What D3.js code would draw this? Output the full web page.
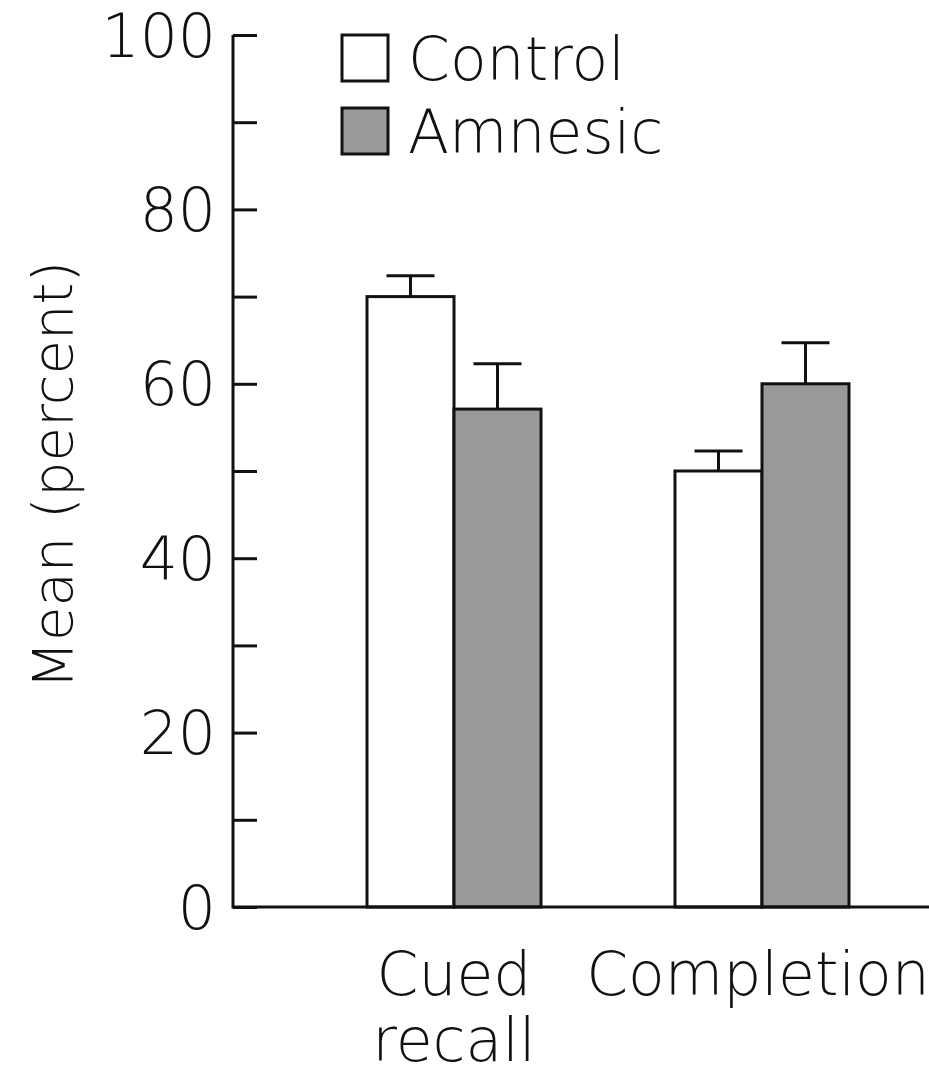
<!DOCTYPE html>
<html>
<head>
<meta charset="utf-8">
<script src="https://cdn.jsdelivr.net/npm/d3@7"></script>
<style>
body{margin:0;background:#fff;}
text{font-family:"DejaVu Sans",sans-serif;font-weight:200;fill:#111;}
</style>
</head>
<body>
<svg width="929" height="1075"></svg>
<script>
var categories = ["Cued recall", "Completion"];
var groups = ["Control", "Amnesic"];
var control = [70, 50];
var controlErr = [72.4, 52.3];
var amnesic = [57.1, 60];
var amnesicErr = [62.3, 64.7];
var yTicks = [0, 20, 40, 60, 80, 100];

var svg = d3.select("svg");
var x0 = 233, yBase = 907, yTop = 35;

var y = d3.scaleLinear().domain([0, 100]).range([yBase, yTop]);
var xg = d3.scaleBand().domain(categories).range([367, 849]).paddingInner(0.435);
var xb = d3.scaleBand().domain(groups).range([0, xg.bandwidth()]);
var fills = {Control: "#fff", Amnesic: "#999"};

var bars = [];
categories.forEach(function(c, i){
    bars.push({cat:c, grp:"Control", v:control[i], e:controlErr[i]});
    bars.push({cat:c, grp:"Amnesic", v:amnesic[i], e:amnesicErr[i]});
});

// error bars (upper half only)
var eb = svg.append("g").attr("stroke", "#111").attr("stroke-width", 3);
bars.forEach(function(d){
    var cx = xg(d.cat) + xb(d.grp) + xb.bandwidth()/2;
    eb.append("line").attr("x1", cx).attr("x2", cx).attr("y1", y(d.v)).attr("y2", y(d.e));
    eb.append("line").attr("x1", cx-24).attr("x2", cx+24).attr("y1", y(d.e)).attr("y2", y(d.e));
});

svg.append("g").selectAll("rect").data(bars).enter().append("rect")
    .attr("x", function(d){return xg(d.cat) + xb(d.grp);})
    .attr("y", function(d){return y(d.v);})
    .attr("width", xb.bandwidth())
    .attr("height", function(d){return yBase - y(d.v);})
    .attr("fill", function(d){return fills[d.grp];})
    .attr("stroke", "#111").attr("stroke-width", 3);

// y axis, ticks point inward
var yAxis = d3.axisRight(y).tickValues(d3.range(0, 101, 10)).tickSize(24).tickFormat("");
var ga = svg.append("g").attr("transform", "translate(" + x0 + ",0)").call(yAxis);
ga.select(".domain").remove();
ga.selectAll(".tick line").attr("stroke", "#111").attr("stroke-width", 3);
svg.append("line").attr("x1", x0).attr("x2", x0).attr("y1", yTop).attr("y2", yBase+1.5)
    .attr("stroke", "#111").attr("stroke-width", 3);
svg.append("line").attr("x1", x0).attr("x2", 929).attr("y1", yBase).attr("y2", yBase)
    .attr("stroke", "#111").attr("stroke-width", 3);

svg.append("g").selectAll("text").data(yTicks).enter().append("text")
    .attr("x", 216).attr("y", function(d){return y(d);})
    .attr("dy", "0.36em").attr("text-anchor", "end")
    .attr("font-size", 60).text(function(d){return d;});

svg.append("text").attr("transform", "translate(72,475) rotate(-90)")
    .attr("text-anchor", "middle").attr("font-size", 56).text("Mean (percent)");

// category labels
var cuedX = xg("Cued recall") + xg.bandwidth()/2;
svg.append("text").attr("y", 995).attr("text-anchor", "middle")
    .attr("font-size", 60)
    .selectAll("tspan").data(["Cued", "recall"]).enter().append("tspan")
    .attr("x", cuedX).attr("dy", function(d,i){return i ? 66 : 0;})
    .text(function(d){return d;});
svg.append("text").attr("x", xg("Completion") + xg.bandwidth()/2 - 4).attr("y", 995)
    .attr("text-anchor", "middle").attr("font-size", 60).text("Completion");

// legend
var lg = svg.append("g").attr("transform", "translate(342,35)");
groups.forEach(function(g, i){
    lg.append("rect").attr("x", 0).attr("y", i*73).attr("width", 46).attr("height", 46)
        .attr("fill", fills[g]).attr("stroke", "#111").attr("stroke-width", 3);
    lg.append("text").attr("x", 66).attr("y", i*73 + 45).attr("font-size", 60).text(g);
});
</script>
</body>
</html>
